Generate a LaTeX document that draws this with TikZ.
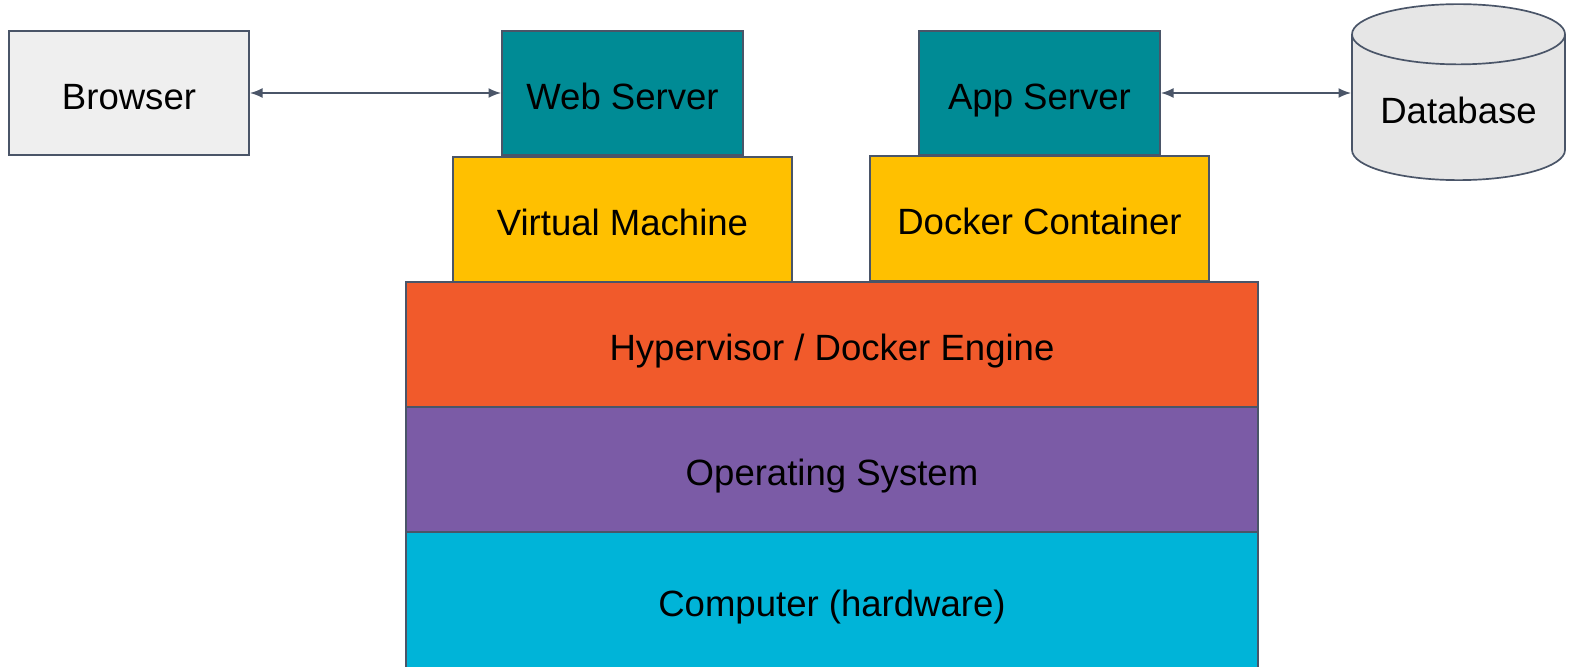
\documentclass[tikz,border=0pt]{standalone}
\usepackage{fontspec}
\setmainfont{Liberation Sans}
\usepackage{tikz}
\usetikzlibrary{arrows, arrows.meta, shapes.geometric}
\tikzset{>=latex}
\definecolor{edgeclr}{RGB}{74, 85, 104}
\definecolor{browserclr}{RGB}{239, 239, 239}
\definecolor{serverclr}{RGB}{0, 139, 149}
\definecolor{guestclr}{RGB}{255, 192, 0}
\definecolor{engineclr}{RGB}{241, 90, 43}
\definecolor{osclr}{RGB}{123, 91, 166}
\definecolor{hwclr}{RGB}{0, 180, 216}
\definecolor{dbclr}{RGB}{230, 230, 230}
\tikzset{
  layer/.style = {draw = edgeclr, line width = 1.2pt, rectangle, inner sep = 0pt,
                  font = \fontsize{26}{30}\selectfont, text height = 23pt, text depth = 0pt},
  smallbox/.style = {layer, minimum width = 6cm, minimum height = 3.1cm},
  guestbox/.style = {layer, fill = guestclr, minimum width = 8.475cm, minimum height = 3.125cm},
  wide/.style = {layer, minimum width = 21.3cm, minimum height = 3.125cm},
  link/.style = {{Latex[length=9pt, width=7pt]}-{Latex[length=9pt, width=7pt]}, draw = edgeclr, line width = 1.2pt}
}

\begin{document}
\begin{tikzpicture}[y = -1cm]
\useasboundingbox (0,0) rectangle (39.9,16.65);
\clip (0,0) rectangle (39.9,16.65);

% layer stack
\node[wide, fill = hwclr] (hw) at (20.8, 15.0) [minimum height = 3.4cm] {Computer (hardware)};
\node[wide, fill = osclr] (os) at (20.8, 11.7375) {Operating System};
\node[wide, fill = engineclr] (engine) at (20.8, 8.6125) {Hypervisor / Docker Engine};

\node[guestbox] (vm) at (15.5625, 5.4875) {Virtual Machine};
\node[guestbox] (docker) at (25.9875, 5.4625) {Docker Container};

\node[smallbox, fill = serverclr, minimum width = 6.025cm] (web) at (15.5625, 2.325) {Web Server};
\node[smallbox, fill = serverclr, minimum width = 6.025cm] (app) at (25.9875, 2.325) {App Server};

% outside the stack
\node[smallbox, fill = browserclr] (browser) at (3.225, 2.325) {Browser};
\node[layer, cylinder, shape border rotate = 90, aspect = 0.385, fill = dbclr,
      minimum width = 5.325cm, minimum height = 4.4cm] (db) at (36.4625, 2.69) {Database};

\draw[link] (browser) -- (web);
\draw[link] (app) -- (db.west |- app);

\end{tikzpicture}
\end{document}
